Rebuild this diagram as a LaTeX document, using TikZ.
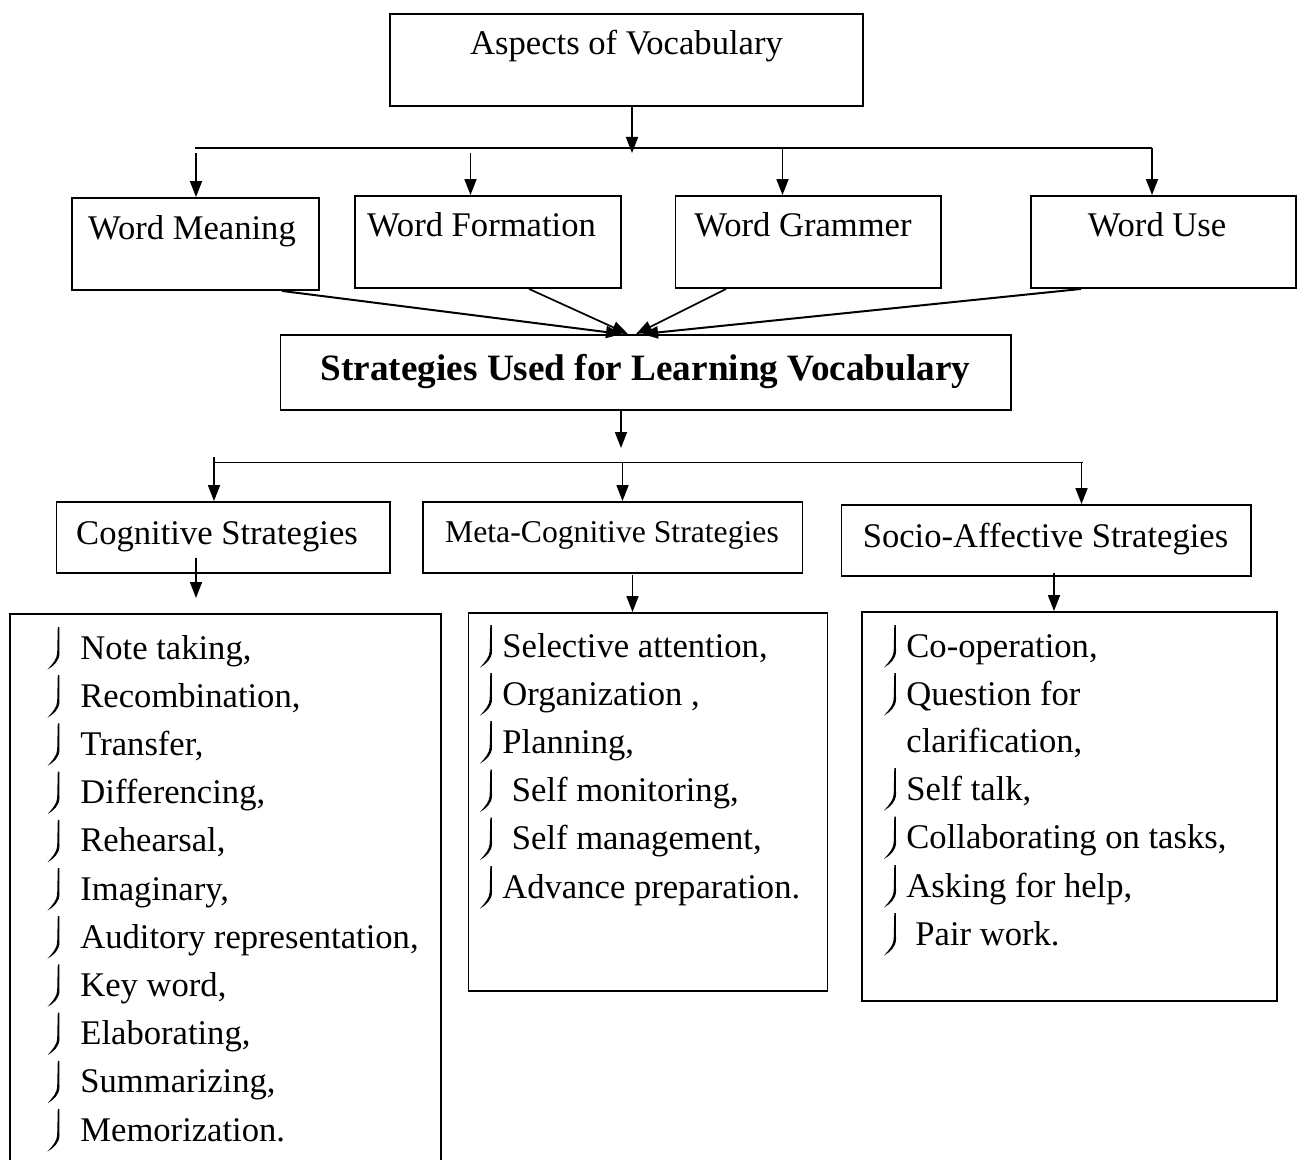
\documentclass[tikz,border=0pt]{standalone}
\usepackage{fontspec}
\setmainfont{Liberation Serif}
\usetikzlibrary{arrows.meta,fit}
\tikzset{
  box/.style={draw, line width=0.95pt, inner sep=0pt},
  ln/.style={line width=0.85pt},
  arr/.style={ln, -{Triangle[length=8pt,width=6pt]}},
  txt/.style={inner sep=0pt, anchor=base, font=\fontsize{17.3}{20}\selectfont},
  item/.style={inner sep=0pt, anchor=base west, font=\fontsize{17.3}{20}\selectfont},
  bigtxt/.style={inner sep=0pt, anchor=base, font=\fontsize{18.6}{22}\selectfont\bfseries},
  smtxt/.style={inner sep=0pt, anchor=base, font=\fontsize{15.85}{19}\selectfont},
  bul/.pic={\fill (-0.7,-32) -- (0.8,-32) -- (1.0,-6) .. controls (1.0,2) and (-5,7) .. (-11,10.5) .. controls (-6,5) and (-1.5,0) .. (-1.3,-6) -- cycle;}
}
\begin{document}
\begin{tikzpicture}[x=0.5pt,y=-0.5pt]
\useasboundingbox (0,0) rectangle (1299,1160);
\clip (0,0) rectangle (1299,1160);
\fill[white] (0,0) rectangle (1299,1160);

% top box
\node[box, fit={(390,14)(863,106)}] (asp) {};
\node[txt] (aspT) at (626.5,55) {Aspects of Vocabulary};

% word boxes
\node[box, fit={(72,198)(319,290)}] (wm) {};
\node[box, fit={(355,196)(621,288)}] (wf) {};
\node[box, fit={(675.5,196)(941,288)}] (wg) {};
\node[box, fit={(1031,196)(1296,288)}] (wu) {};
\node[txt] (wmT) at (192,240) {Word Meaning};
\node[txt] (wfT) at (481.5,237) {Word Formation};
\node[txt] (wgT) at (803,237) {Word Grammer};
\node[txt] (wuT) at (1157,237) {Word Use};

% first bus
\coordinate (t1) at (632,153);
\draw[arr] (asp.south -| t1) -- (t1);
\coordinate (b1l) at (195,148);
\coordinate (b1r) at (1152,148);
\draw[ln] (b1l) -- (b1r);
\coordinate (d1) at (196,153);
\coordinate (d2) at (470.5,153);
\coordinate (d3) at (782.5,148);
\coordinate (d4) at (1152,148);
\draw[arr] (d1) -- (d1 |- wm.north);
\draw[arr] (d2) -- (d2 |- wf.north);
\draw[arr] (d3) -- (d3 |- wg.north);
\draw[arr] (d4) -- (d4 |- wu.north);

% strategies box
\node[box, fit={(280.5,335)(1011,410)}] (strat) {};
\node[bigtxt] (stratT) at (645.5,380) {Strategies Used for Learning Vocabulary};

% converging arrows
\coordinate (s1) at (282,0);
\coordinate (s2) at (529,0);
\coordinate (s3) at (726,0);
\coordinate (s4) at (1081,0);
\coordinate (e1) at (622,0);
\coordinate (e2) at (628,0);
\coordinate (e3) at (636,0);
\coordinate (e4) at (642,0);
\draw[arr, line width=1pt] (wm.south -| s1) -- (strat.north -| e1);
\draw[arr] (wf.south -| s2) -- (strat.north -| e2);
\draw[arr] (wg.south -| s3) -- (strat.north -| e3);
\draw[arr, line width=1pt] (wu.south -| s4) -- (strat.north -| e4);

% second bus
\coordinate (t2) at (621,448);
\draw[arr] (strat.south -| t2) -- (t2);
\coordinate (b2l) at (214,462.5);
\coordinate (b2r) at (1083,462.5);
\draw[ln] (b2l) -- (b2r);

% strategy boxes
\node[box, fit={(56.5,502)(390,573)}] (cog) {};
\node[box, fit={(423,502)(802.5,573)}] (meta) {};
\node[box, fit={(841.5,505)(1251,576)}] (soc) {};
\node[txt] (cogT) at (217,544) {Cognitive Strategies};
\node[smtxt] (metaT) at (612,542) {Meta-Cognitive Strategies};
\node[txt] (socT) at (1045.5,547) {Socio-Affective Strategies};

\coordinate (f1) at (214,457);
\coordinate (f2) at (622.5,462.5);
\coordinate (f3) at (1081.5,462.5);
\draw[arr] (f1) -- (f1 |- cog.north);
\draw[arr] (f2) -- (f2 |- meta.north);
\draw[arr] (f3) -- (f3 |- soc.north);

% list boxes
\node[box, fit={(10,614)(441,1200)}] (clist) {};
\node[box, fit={(468.5,613)(827.5,991)}] (mlist) {};
\node[box, fit={(862,612)(1277,1001)}] (slist) {};

\coordinate (g1s) at (196,558);
\coordinate (g1e) at (196,598);
\coordinate (g2) at (632.5,575);
\coordinate (g3) at (1054,573);
\draw[arr] (g1s) -- (g1e);
\draw[arr] (g2) -- (g2 |- mlist.north);
\draw[arr] (g3) -- (g3 |- slist.north);

% cognitive items
\foreach \t [count=\i from 0] in {Note taking{,}, Recombination{,}, Transfer{,}, Differencing{,}, Rehearsal{,}, Imaginary{,}, Auditory representation{,}, Key word{,}, Elaborating{,}, Summarizing{,}, Memorization.}{
  \pic at (58.5,659+48.2*\i) {bul};
  \node[item] (ci\i) at (80,659+48.2*\i) {\t};
}

% meta items
\pic at (491,657) {bul};
\node[item] (mi0) at (502,657) {Selective attention,};
\pic at (491,705) {bul};
\node[item] (mi1) at (502,705) {Organization ,};
\pic at (491,753) {bul};
\node[item] (mi2) at (502,753) {Planning,};
\pic at (491,801.5) {bul};
\node[item] (mi3) at (511.5,801.5) {Self monitoring,};
\pic at (491,849.5) {bul};
\node[item] (mi4) at (511.5,849.5) {Self management,};
\pic at (491,898) {bul};
\node[item] (mi5) at (502,898) {Advance preparation.};

% socio items
\pic at (895,657) {bul};
\node[item] (si0) at (906,657) {Co-operation,};
\pic at (895,705) {bul};
\node[item] (si1) at (906,705) {Question for};
\node[item] (si1b) at (906,752) {clarification,};
\pic at (895,800) {bul};
\node[item] (si2) at (906,800) {Self talk,};
\pic at (895,848.5) {bul};
\node[item] (si3) at (906,848.5) {Collaborating on tasks,};
\pic at (895,897) {bul};
\node[item] (si4) at (906,897) {Asking for help,};
\pic at (895,945) {bul};
\node[item] (si5) at (915,945) {Pair work.};
\end{tikzpicture}
\end{document}
